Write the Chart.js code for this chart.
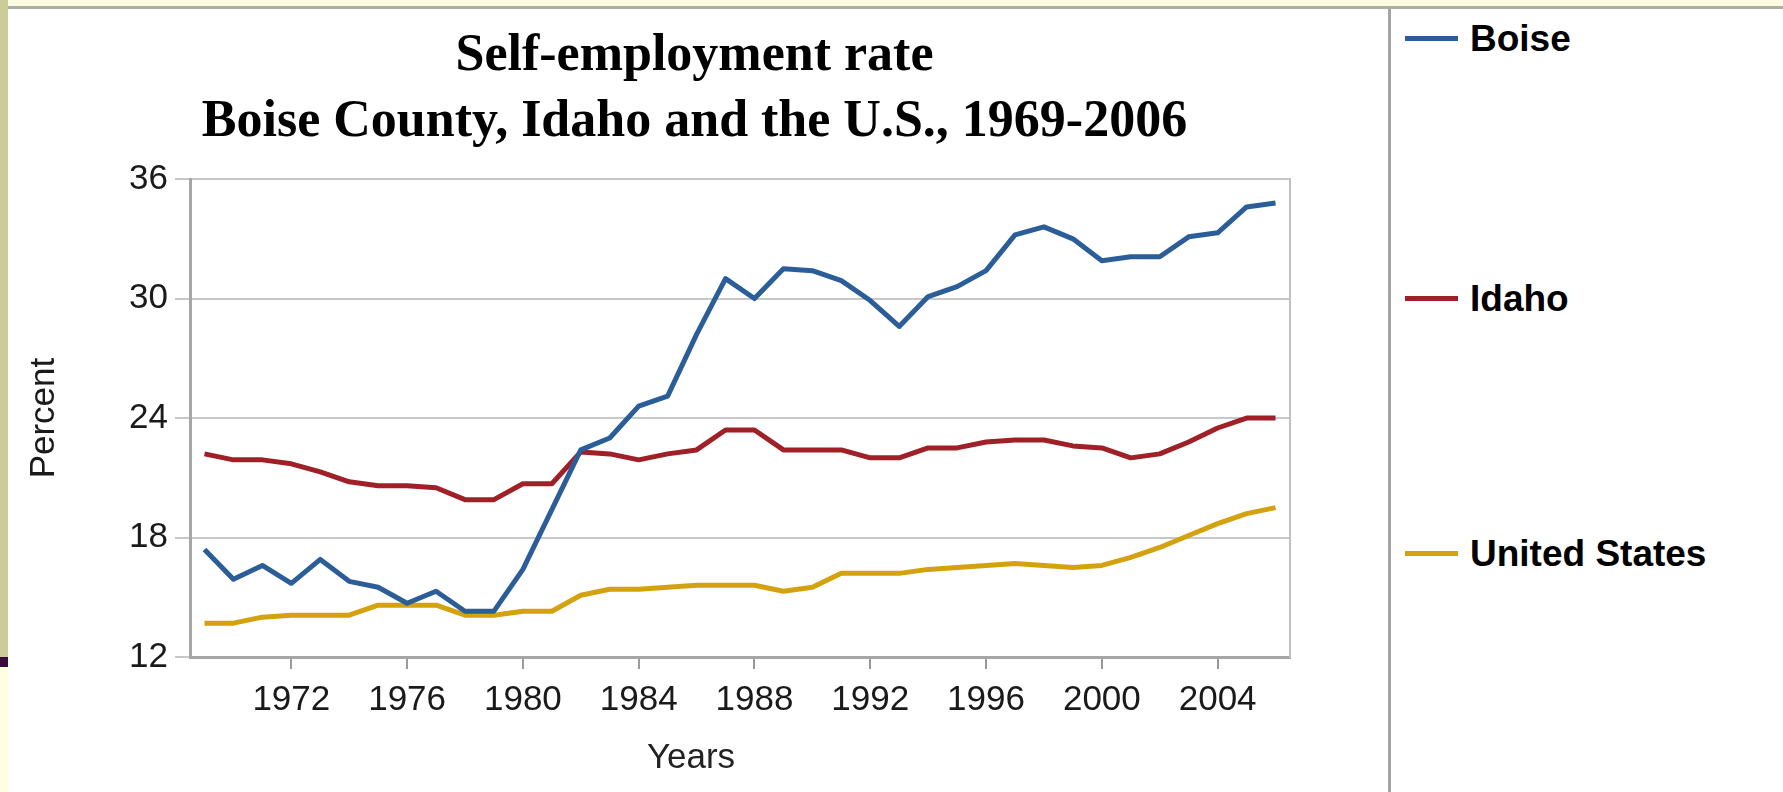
<!DOCTYPE html>
<html>
<head>
<meta charset="utf-8">
<title>Self-employment rate</title>
<script src="https://cdn.jsdelivr.net/npm/chart.js"></script>
<style>
  html, body { margin: 0; padding: 0; background: #fff; }
  body { width: 1783px; height: 792px; position: relative; overflow: hidden; font-family: 'Liberation Sans', Arial, sans-serif; }
  #chartBox { position: absolute; left: 0; top: 0; width: 1389px; height: 792px; }
  .topband { position: absolute; left: 0; top: 0; width: 1783px; height: 6px; background: #fdfbe2; }
  .topline { position: absolute; left: 0; top: 6px; width: 1783px; height: 3px; background: #b0b0a2; }
  .leftbar { position: absolute; left: 0; top: 0; width: 8px; height: 657px; background: #cccc99; }
  .leftmark { position: absolute; left: 0; top: 657px; width: 8px; height: 10px; background: #3a0a3c; }
  .leftfoot { position: absolute; left: 0; top: 667px; width: 8px; height: 125px; background: #ffffe0; }
  .sep { position: absolute; left: 1388px; top: 9px; width: 3px; height: 783px; background: #a4a4a4; }
  #xTitle { position: absolute; left: 691px; top: 755px; transform: translate(-50%, -50%); font-size: 35px; line-height: 1; color: #222; }
  .item { position: absolute; left: 1405px; height: 40px; display: flex; align-items: center; transform: translateY(-50%); }
  .swatch { width: 53px; height: 5px; margin-right: 12px; }
  .item span { font-weight: bold; font-size: 37px; color: #000; line-height: 1; }
</style>
</head>
<body>
<div id="chartBox"><canvas id="lines"></canvas></div>
<div class="topband"></div>
<div class="topline"></div>
<div class="leftbar"></div>
<div class="leftmark"></div>
<div class="leftfoot"></div>
<div class="sep"></div>
<div id="xTitle">Years</div>
<div id="legend"></div>
<script>
const years = [
    '1969', '1970', '1971', '1972', '1973', '1974', '1975', '1976', '1977', '1978',
    '1979', '1980', '1981', '1982', '1983', '1984', '1985', '1986', '1987', '1988',
    '1989', '1990', '1991', '1992', '1993', '1994', '1995', '1996', '1997', '1998',
    '1999', '2000', '2001', '2002', '2003', '2004', '2005', '2006',
]
const xTickYears = ['1972', '1976', '1980', '1984', '1988', '1992', '1996', '2000', '2004']
const yTicks = [12, 18, 24, 30, 36]

const boise = [
    17.4, 15.9, 16.6, 15.7, 16.9, 15.8, 15.5, 14.7, 15.3, 14.3,
    14.3, 16.4, 19.4, 22.4, 23.0, 24.6, 25.1, 28.2, 31.0, 30.0,
    31.5, 31.4, 30.9, 29.9, 28.6, 30.1, 30.6, 31.4, 33.2, 33.6,
    33.0, 31.9, 32.1, 32.1, 33.1, 33.3, 34.6, 34.8,
]
const idaho = [
    22.2, 21.9, 21.9, 21.7, 21.3, 20.8, 20.6, 20.6, 20.5, 19.9,
    19.9, 20.7, 20.7, 22.3, 22.2, 21.9, 22.2, 22.4, 23.4, 23.4,
    22.4, 22.4, 22.4, 22.0, 22.0, 22.5, 22.5, 22.8, 22.9, 22.9,
    22.6, 22.5, 22.0, 22.2, 22.8, 23.5, 24.0, 24.0,
]
const unitedStates = [
    13.7, 13.7, 14.0, 14.1, 14.1, 14.1, 14.6, 14.6, 14.6, 14.1,
    14.1, 14.3, 14.3, 15.1, 15.4, 15.4, 15.5, 15.6, 15.6, 15.6,
    15.3, 15.5, 16.2, 16.2, 16.2, 16.4, 16.5, 16.6, 16.7, 16.6,
    16.5, 16.6, 17.0, 17.5, 18.1, 18.7, 19.2, 19.5,
]

const axisFont = { family: "'Liberation Sans', Arial, sans-serif", size: 35 }

const lineConfig = {
    type: 'line',
    data: {
        labels: years,
        datasets: [
            { label: 'Boise', data: boise, borderColor: '#2b5d99' },
            { label: 'Idaho', data: idaho, borderColor: '#9f2027' },
            { label: 'United States', data: unitedStates, borderColor: '#d4a10f' },
        ],
    },
    options: {
        responsive: true,
        maintainAspectRatio: false,
        animation: false,
        layout: { padding: 0 },
        elements: {
            line: { borderWidth: 5, tension: 0, borderJoinStyle: 'round', fill: false },
            point: { radius: 0, hoverRadius: 0 },
        },
        plugins: {
            legend: { display: false },
            tooltip: { enabled: false },
            title: {
                display: true,
                text: ['Self-employment rate', 'Boise County, Idaho and the U.S., 1969-2006'],
                color: '#000',
                font: { family: "'Liberation Serif', 'Times New Roman', serif", size: 52, weight: 'bold', lineHeight: 1.27 },
                padding: { top: 24, bottom: 23 },
            },
        },
        scales: {
            x: {
                offset: true,
                grid: {
                    drawOnChartArea: false,
                    drawTicks: true,
                    tickLength: 12,
                    lineWidth: 2,
                    color: (ctx) => xTickYears.includes(years[ctx.index]) ? '#9a9a9a' : 'rgba(0,0,0,0)',
                },
                border: { color: '#a6a6a6', width: 3 },
                ticks: {
                    autoSkip: false,
                    maxRotation: 0,
                    padding: 10,
                    color: '#1a1a1a',
                    font: axisFont,
                    callback: (value, i) => xTickYears.includes(years[i]) ? years[i] : '',
                },
                afterFit: (scale) => { scale.height = 135 },
            },
            y: {
                min: 12,
                max: 36,
                afterBuildTicks: (scale) => { scale.ticks = yTicks.map(v => ({ value: v })) },
                grid: { color: '#c8c8c8', lineWidth: 2, tickLength: 15 },
                border: { color: '#a6a6a6', width: 3 },
                ticks: { padding: 7, color: '#1a1a1a', font: axisFont },
                title: { display: true, text: 'Percent', color: '#1a1a1a', font: axisFont, padding: { top: 23, bottom: 0 } },
                afterFit: (scale) => { scale.width = 190 },
            },
            yRight: {
                position: 'right',
                grid: { display: false, drawTicks: false },
                ticks: { display: false },
                border: { display: true, color: '#c0c0c0', width: 2 },
                afterFit: (scale) => { scale.width = 99 },
            },
        },
    },
}

const linesCtx = document.getElementById('lines')
window.myLine = new Chart(linesCtx, lineConfig)

// legend on the right, built from the datasets
const legendTops = [38, 298, 553]
const legendEl = document.getElementById('legend')
lineConfig.data.datasets.forEach((ds, i) => {
    const item = document.createElement('div')
    item.className = 'item'
    item.style.top = legendTops[i] + 'px'
    item.innerHTML = '<div class="swatch" style="background:' + ds.borderColor + '"></div><span>' + ds.label + '</span>'
    legendEl.appendChild(item)
})
</script>
</body>
</html>
